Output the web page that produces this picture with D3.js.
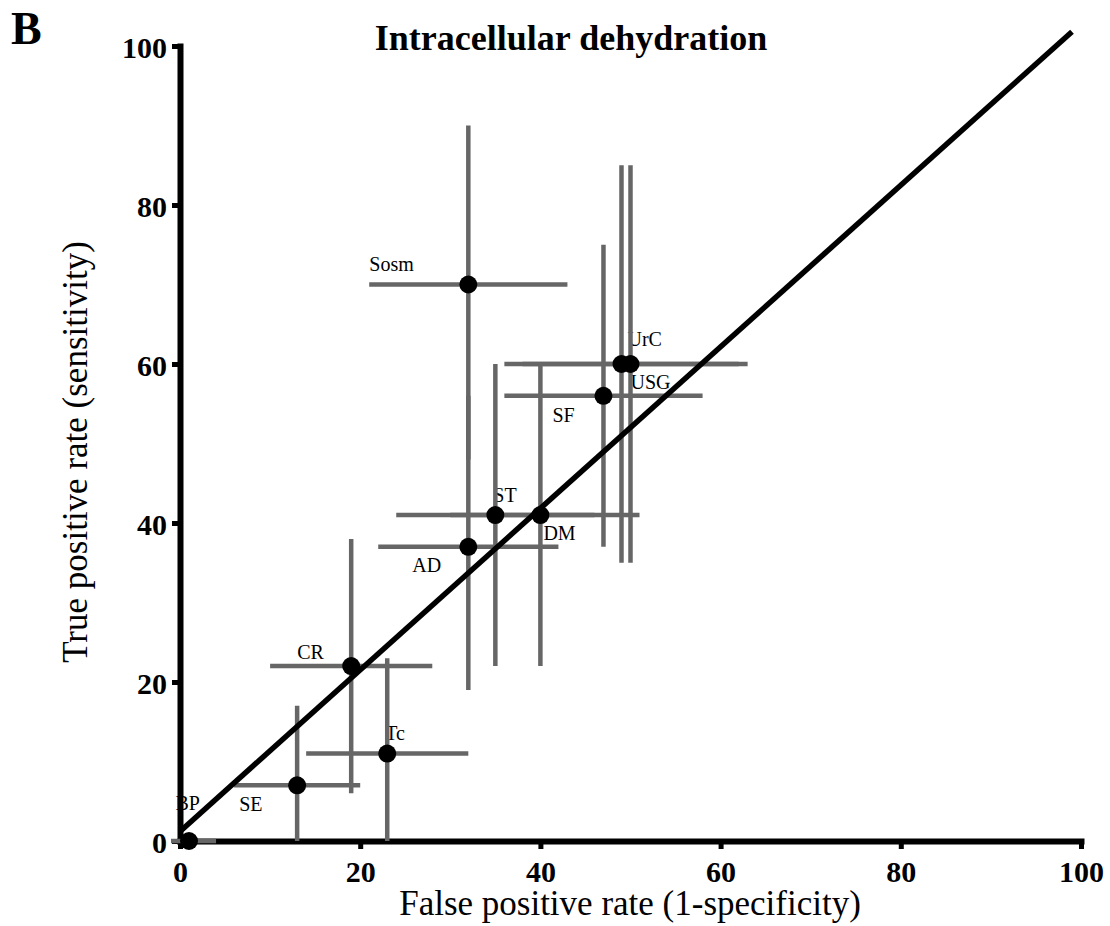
<!DOCTYPE html>
<html>
<head>
<meta charset="utf-8">
<script src="https://cdn.jsdelivr.net/npm/d3@7"></script>
<style>
  html, body { margin: 0; padding: 0; background: #fff; }
  svg { display: block; font-family: "Liberation Serif", "Times New Roman", serif; }
  .axis .domain { stroke: #000; stroke-width: 6; stroke-linecap: square; }
  .axis .tick line { stroke: #000; stroke-width: 5; }
  .axis .tick text { font-size: 30px; font-weight: bold; fill: #000; font-family: "Liberation Serif", serif; }
  .err { stroke: #666; stroke-width: 4.5; }
  .ref { stroke: #000; stroke-width: 5.5; fill: none; }
  .pt-label { font-size: 20px; fill: #000; }
</style>
</head>
<body>
<svg id="chart" width="1110" height="926"></svg>
<script>
(function () {
  'use strict';

  // data
  const labels = ['BP', 'SE', 'Tc', 'CR', 'AD', 'ST', 'DM', 'Sosm', 'SF', 'UrC', 'USG'];
  const fpr    = [1, 13, 23, 19, 32, 35, 40, 32, 47, 49, 50];
  const tpr    = [0, 7, 11, 22, 37, 41, 41, 70, 56, 60, 60];
  const fprLo  = [-1, 6, 14, 10, 22, 24, 30, 21, 36, 36, 38];
  const fprHi  = [4, 20, 32, 28, 42, 46, 51, 43, 58, 62, 63];
  const tprLo  = [0, 0, 0, 6, 19, 22, 22, 48, 37, 35, 35];
  const tprHi  = [0, 17, 23, 38, 56, 60, 60, 90, 75, 85, 85];
  const refLine = [[0, 1.2], [99, 101.8]];
  const ticks = [0, 20, 40, 60, 80, 100];

  // label placement relative to the point, px
  const labelDx = [-13.5, -58, -2, -54, -56, -2, 3, -99, -51, 6, 0];
  const labelDy = [-31, 26, -14, -7, 25, -13, 25, -14, 26, -18, 25];

  const svg = d3.select('#chart');
  const x = d3.scaleLinear().domain([0, 100]).range([180, 1081]);
  const y = d3.scaleLinear().domain([0, 100]).range([841, 46]);

  const rows = labels.map((name, i) => ({
    name, x: fpr[i], y: tpr[i],
    xLo: fprLo[i], xHi: fprHi[i], yLo: tprLo[i], yHi: tprHi[i],
    dx: labelDx[i], dy: labelDy[i]
  }));

  // panel letter and title
  svg.append('text')
    .attr('x', 11).attr('y', 44)
    .attr('font-size', 46).attr('font-weight', 'bold')
    .text('B');

  svg.append('text')
    .attr('x', 571).attr('y', 50)
    .attr('text-anchor', 'middle')
    .attr('font-size', 36).attr('font-weight', 'bold')
    .text('Intracellular dehydration');

  // point labels (under the axes, BP is partly hidden by the y axis)
  svg.append('g').selectAll('text')
    .data(rows)
    .join('text')
    .attr('class', 'pt-label')
    .attr('x', d => x(d.x) + d.dx)
    .attr('y', d => y(d.y) + d.dy)
    .text(d => d.name);

  // axes
  svg.append('g')
    .attr('class', 'axis')
    .attr('transform', `translate(0,${y(0)})`)
    .call(d3.axisBottom(x).tickValues(ticks).tickSize(8).tickSizeOuter(0).tickPadding(12));

  const gy = svg.append('g')
    .attr('class', 'axis')
    .attr('transform', `translate(${x(0)},0)`)
    .call(d3.axisLeft(y).tickValues(ticks).tickSize(8).tickSizeOuter(0).tickPadding(5));
  gy.selectAll('.tick text').attr('dy', '0.38em');

  svg.append('text')
    .attr('x', 630).attr('y', 915)
    .attr('text-anchor', 'middle')
    .attr('font-size', 35)
    .text('False positive rate (1-specificity)');

  svg.append('text')
    .attr('transform', 'translate(87,452) rotate(-90)')
    .attr('text-anchor', 'middle')
    .attr('font-size', 35)
    .text('True positive rate (sensitivity)');

  // error bars
  const bars = svg.append('g');
  bars.selectAll('line.h')
    .data(rows)
    .join('line')
    .attr('class', 'err h')
    .attr('x1', d => x(d.xLo)).attr('x2', d => x(d.xHi))
    .attr('y1', d => y(d.y)).attr('y2', d => y(d.y));
  bars.selectAll('line.v')
    .data(rows.filter(d => d.yHi > d.yLo))
    .join('line')
    .attr('class', 'err v')
    .attr('x1', d => x(d.x)).attr('x2', d => x(d.x))
    .attr('y1', d => y(d.yLo)).attr('y2', d => y(d.yHi));

  // reference line
  svg.append('path')
    .attr('class', 'ref')
    .attr('d', d3.line().x(d => x(d[0])).y(d => y(d[1]))(refLine));

  // points
  svg.append('g').selectAll('circle')
    .data(rows)
    .join('circle')
    .attr('cx', d => x(d.x))
    .attr('cy', d => y(d.y))
    .attr('r', 9)
    .attr('fill', '#000');
})();
</script>
</body>
</html>
